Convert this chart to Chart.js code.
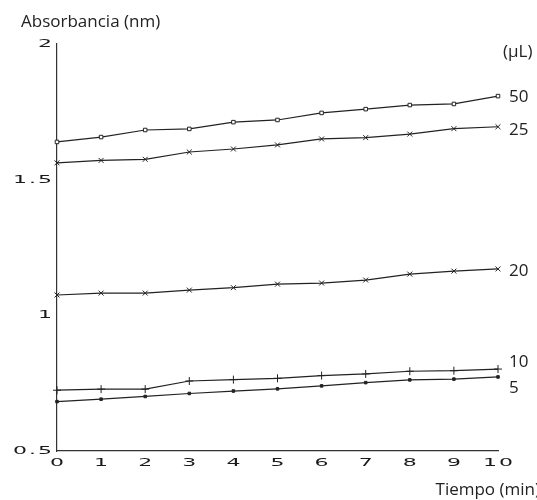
<!DOCTYPE html>
<html>
<head>
<meta charset="utf-8">
<script src="https://cdn.jsdelivr.net/npm/chart.js@4/dist/chart.umd.min.js"></script>
<style>
html,body{margin:0;padding:0;background:#fff;}
#wrap{width:537px;height:500px;position:relative;}
</style>
</head>
<body>
<div id="wrap"><canvas id="c" width="537" height="500"></canvas></div>
<script>
// ---- data ----
const times = [0,1,2,3,4,5,6,7,8,9,10];
const s50 = [1.639,1.657,1.683,1.687,1.712,1.720,1.746,1.760,1.775,1.779,1.808];
const s25 = [1.562,1.571,1.575,1.602,1.613,1.628,1.650,1.655,1.668,1.688,1.695];
const s20 = [1.075,1.082,1.082,1.093,1.102,1.115,1.119,1.130,1.152,1.163,1.171];
const s10 = [0.724,0.728,0.728,0.758,0.763,0.768,0.778,0.784,0.794,0.796,0.802];
const s5  = [0.682,0.691,0.701,0.712,0.721,0.729,0.740,0.752,0.762,0.765,0.773];
const seriesNames = ['50','25','20','10','5'];
const yTickValues = [0.5,1,1.5,2];
const yTickLabels = ['0.5','1','1.5','2'];
const xTickLabels = ['0','1','2','3','4','5','6','7','8','9','10'];
const yTitle = 'Absorbancia (nm)';
const xTitle = 'Tiempo (min)';
const unitLabel = '(\u03BCL)';

// ---- styles ----
const labelDy = [0, 2, 1, -8, 10];
const styles = [
  {pointStyle:'rect', radius:2.5, bg:'#fff'},
  {pointStyle:'crossRot', radius:3.5, bg:'#000'},
  {pointStyle:'crossRot', radius:3.5, bg:'#000'},
  {pointStyle:'cross', radius:4, bg:'#000'},
  {pointStyle:'rect', radius:1.8, bg:'#222'}
];
const allSeries = [s50,s25,s20,s10,s5];
const TICK_FONT = '11px "DejaVu Sans"';
const H_SCALE = 2.0;
const CHAR_GAP = 1.0;

const datasets = allSeries.map((s,i)=>({
  label: seriesNames[i],
  data: times.map((t,j)=>({x:t,y:s[j]})),
  borderColor:'#222',
  borderWidth:1.2,
  pointStyle: styles[i].pointStyle,
  pointRadius: styles[i].radius,
  pointBackgroundColor: styles[i].bg,
  pointBorderColor:'#222',
  pointBorderWidth:1,
  tension:0,
  clip:false
}));

// draw a horizontally-extended text; align: 'center' | 'right'
function wideText(ctx, str, x, y, align){
  ctx.save();
  ctx.font = TICK_FONT;
  ctx.textBaseline = 'middle';
  ctx.textAlign = 'left';
  const chars = [...str];
  const widths = chars.map(c=>ctx.measureText(c).width);
  const total = widths.reduce((a,b)=>a+b,0) + CHAR_GAP*(chars.length-1);
  ctx.translate(x, y);
  ctx.scale(H_SCALE, 1);
  let start = align === 'right' ? -total : -total/2;
  chars.forEach((c,k)=>{ ctx.fillText(c, start, 0); start += widths[k] + CHAR_GAP; });
  ctx.restore();
}

const textPlugin = {
  id:'texts',
  afterDraw(chart){
    const ctx = chart.ctx;
    const xs = chart.scales.x, ys = chart.scales.y;
    ctx.save();
    ctx.fillStyle = '#1a1a1a';
    // tick labels
    yTickValues.forEach((v,i)=>{
      wideText(ctx, yTickLabels[i], xs.left - 5, ys.getPixelForValue(v), 'right');
    });
    times.forEach((v,i)=>{
      wideText(ctx, xTickLabels[i], xs.getPixelForValue(v), ys.bottom + 12, 'center');
    });
    ctx.fillStyle = '#222';
    ctx.font = '17px "Open Sans", "Noto Sans", sans-serif';
    ctx.textBaseline = 'alphabetic';
    ctx.textAlign = 'left';
    ctx.fillText(yTitle, 21, 27);
    ctx.fillText(unitLabel, 503, 57);
    allSeries.forEach((s,i)=>{
      const y = ys.getPixelForValue(s[s.length-1]) + labelDy[i] + 6;
      ctx.fillText(seriesNames[i], xs.getPixelForValue(times[times.length-1]) + 11, y);
    });
    ctx.textAlign = 'right';
    ctx.fillText(xTitle, 540, 495);
    ctx.restore();
  }
};

new Chart(document.getElementById('c'), {
  type:'line',
  data:{datasets},
  options:{
    responsive:false,
    animation:false,
    layout:{padding:{left:0,top:44,right:39,bottom:0}},
    plugins:{legend:{display:false}, tooltip:{enabled:false}},
    scales:{
      x:{
        type:'linear', min:0, max:10,
        grid:{display:false, drawTicks:false},
        border:{display:true, color:'#333', width:1.2},
        afterBuildTicks(scale){ scale.ticks = times.map(v=>({value:v})); },
        ticks:{display:false},
        afterFit(scale){ scale.height = 49; }
      },
      y:{
        type:'linear', min:0.5, max:2,
        grid:{display:false, drawTicks:false},
        border:{display:true, color:'#333', width:1.2},
        afterBuildTicks(scale){ scale.ticks = yTickValues.map(v=>({value:v})); },
        ticks:{display:false},
        afterFit(scale){ scale.width = 57; }
      }
    }
  },
  plugins:[textPlugin]
});
</script>
</body>
</html>
